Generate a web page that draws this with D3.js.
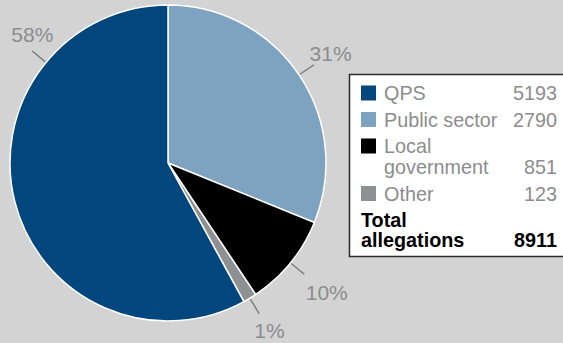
<!DOCTYPE html>
<html>
<head>
<meta charset="utf-8">
<script src="https://cdn.jsdelivr.net/npm/d3@7"></script>
<style>
  html, body { margin: 0; padding: 0; background: #d3d3d4; }
  svg { display: block; font-family: "Liberation Sans", Arial, Helvetica, sans-serif; }
</style>
</head>
<body>
<svg id="chart" width="563" height="343"></svg>
<script>
// Allegations by sector (drawn clockwise from 12 o'clock)
const categories = ["Public sector", "Local government", "Other", "QPS"];
const values = [2790, 851, 123, 5193];
const colors = ["#7ea3c0", "#000000", "#8f9092", "#02467e"];
const totalAllegations = 8911;

// Legend order and line breaks
const legendOrder = ["QPS", "Public sector", "Local government", "Other"];
const legendLines = {
  "QPS": ["QPS"],
  "Public sector": ["Public sector"],
  "Local government": ["Local", "government"],
  "Other": ["Other"]
};
const totalLines = ["Total", "allegations"];

const svg = d3.select("#chart");
const cx = 168, cy = 163, r = 158;
const sum = d3.sum(values);

const pie = d3.pie().sort(null).value(d => d.value);
const arcs = pie(categories.map((c, i) => ({ name: c, value: values[i], color: colors[i] })));
const arc = d3.arc().innerRadius(0).outerRadius(r);

const g = svg.append("g").attr("transform", `translate(${cx},${cy})`);
g.selectAll("path.slice")
  .data(arcs)
  .join("path")
  .attr("class", "slice")
  .attr("d", arc)
  .attr("fill", d => d.data.color)
  .attr("stroke", "#ffffff")
  .attr("stroke-width", 1.5)
  .attr("stroke-linejoin", "round");

// Percentage labels with short leader lines; the large slice's label sits at upper left
const deg = Math.PI / 180;
const leaderAngle = { "QPS": -50.5 * deg };
const textAngle = { "QPS": -46.5 * deg };
const textRadius = { "QPS": 187, "Public sector": 196, "Local government": 205, "Other": 196 };
const labelSize = 21;
const pct = d3.format(".0%");
const labels = g.selectAll("g.lbl").data(arcs).join("g").attr("class", "lbl");
labels.each(function (d) {
  const mid = (d.startAngle + d.endAngle) / 2;
  const a = leaderAngle[d.data.name] ?? mid;
  const sel = d3.select(this);
  sel.append("line")
    .attr("x1", Math.sin(a) * (r + 1)).attr("y1", -Math.cos(a) * (r + 1))
    .attr("x2", Math.sin(a) * (r + 18)).attr("y2", -Math.cos(a) * (r + 18))
    .attr("stroke", "#7a7a7b").attr("stroke-width", 1.4);
  const ta = textAngle[d.data.name] ?? mid;
  const lr = textRadius[d.data.name];
  // centre the digits' cap height on the label point
  sel.append("text")
    .attr("x", Math.sin(ta) * lr)
    .attr("y", -Math.cos(ta) * lr + labelSize * 0.358)
    .attr("text-anchor", "middle")
    .attr("font-size", labelSize)
    .attr("fill", "#8c8c8d")
    .text(pct(d.data.value / sum));
});

// Legend box
const lg = svg.append("g");
lg.append("rect")
  .attr("x", 349.5).attr("y", 74.5)
  .attr("width", 230).attr("height", 182)
  .attr("fill", "#ffffff")
  .attr("stroke", "#2b2b2b").attr("stroke-width", 1.5);

const lineH = 21, gap = 5.5;
const textX = 384, valX = 557, swX = 361;
let base = 100;
legendOrder.forEach(name => {
  const i = categories.indexOf(name);
  const lines = legendLines[name];
  lg.append("rect")
    .attr("x", swX).attr("y", base - 14.5)
    .attr("width", 15).attr("height", 15)
    .attr("fill", colors[i]);
  lines.forEach((t, k) => {
    lg.append("text")
      .attr("x", textX).attr("y", base + k * lineH)
      .attr("font-size", 19.8).attr("fill", "#8c8c8d")
      .text(t);
  });
  lg.append("text")
    .attr("x", valX).attr("y", base + (lines.length - 1) * lineH)
    .attr("text-anchor", "end")
    .attr("font-size", 19.8).attr("fill", "#8c8c8d")
    .text(values[i]);
  base += lines.length * lineH + gap;
});

totalLines.forEach((t, k) => {
  lg.append("text")
    .attr("x", swX).attr("y", base + k * (lineH - 1))
    .attr("font-size", 19.8).attr("font-weight", "bold").attr("fill", "#000")
    .text(t);
});
lg.append("text")
  .attr("x", valX).attr("y", base + (totalLines.length - 1) * (lineH - 1))
  .attr("text-anchor", "end")
  .attr("font-size", 19.8).attr("font-weight", "bold").attr("fill", "#000")
  .text(totalAllegations);
</script>
</body>
</html>
